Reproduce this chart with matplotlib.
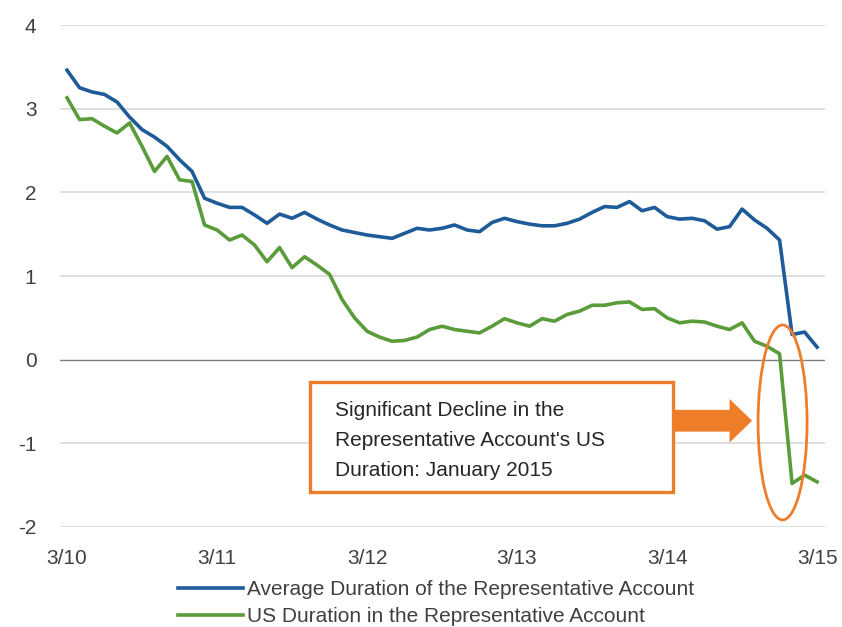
#!/usr/bin/python

import matplotlib
matplotlib.use("Agg")
import matplotlib.pyplot as plt
import matplotlib.patches as mpatches

# monthly readings, 3/10 through 3/15
TickLabels = ["3/10", "3/11", "3/12", "3/13", "3/14", "3/15"]

AvgDuration = [3.46, 3.25, 3.20, 3.17, 3.08, 2.90, 2.75, 2.66, 2.55, 2.39,
               2.25, 1.93, 1.87, 1.82, 1.82, 1.73, 1.63, 1.74, 1.69, 1.76,
               1.68, 1.61, 1.55, 1.52, 1.49, 1.47, 1.45, 1.51, 1.57, 1.55,
               1.57, 1.61, 1.55, 1.53, 1.64, 1.69, 1.65, 1.62, 1.60, 1.60,
               1.63, 1.68, 1.76, 1.83, 1.82, 1.89, 1.78, 1.82, 1.71, 1.68,
               1.69, 1.66, 1.56, 1.59, 1.80, 1.67, 1.57, 1.43, 0.30, 0.33,
               0.15]

USDuration = [3.13, 2.87, 2.88, 2.79, 2.71, 2.83, 2.55, 2.25, 2.43, 2.15,
              2.13, 1.61, 1.55, 1.43, 1.49, 1.37, 1.17, 1.34, 1.10, 1.23,
              1.13, 1.02, 0.72, 0.50, 0.34, 0.27, 0.22, 0.23, 0.27, 0.36,
              0.40, 0.36, 0.34, 0.32, 0.40, 0.49, 0.44, 0.40, 0.49, 0.46,
              0.54, 0.58, 0.65, 0.65, 0.68, 0.69, 0.60, 0.61, 0.50, 0.44,
              0.46, 0.45, 0.40, 0.36, 0.44, 0.22, 0.16, 0.07, -1.48, -1.38,
              -1.46]

SeriesNames = ["Average Duration of the Representative Account",
               "US Duration in the Representative Account"]

NoteText = "Significant Decline in the\nRepresentative Account's US\nDuration: January 2015"

BLUE = "#1f5b98"
GREEN = "#5b9c3a"
ORANGE = "#ee7d2a"


def drawChart():

    plt.rcParams["font.family"] = ["Liberation Sans", "DejaVu Sans"]
    plt.rcParams["axes.unicode_minus"] = False

    fig = plt.figure(figsize=(8.42, 6.27), dpi=100)
    ax = fig.add_axes([0.0713, 0.1595, 0.9086, 0.8006])

    months = list(range(len(AvgDuration)))

    for yv in range(-2, 5):
        if yv == 0:
            continue
        ax.axhline(yv, color="#d9d9d9", lw=1.2, zorder=0)
    ax.axhline(0, color="#7f7f7f", lw=1.0, zorder=1)

    ax.plot(months, AvgDuration, color=BLUE, lw=2.6, label=SeriesNames[0], zorder=3)
    ax.plot(months, USDuration, color=GREEN, lw=2.6, label=SeriesNames[1], zorder=3)

    ax.set_xlim(-0.56, 60.64)
    ax.set_ylim(-2, 4)
    ax.set_xticks([i * 12 for i in range(len(TickLabels))])
    ax.set_xticklabels(TickLabels)
    ax.set_yticks(range(-2, 5))
    ax.set_yticklabels([str(v) for v in range(-2, 5)])
    ax.tick_params(axis="both", length=0, labelsize=15, colors="#404040")
    ax.tick_params(axis="y", pad=17)
    ax.tick_params(axis="x", pad=16)
    for s in ax.spines.values():
        s.set_visible(False)

    # callout box, arrow and ellipse
    box = mpatches.Rectangle((19.4, -1.58), 29.1, 1.31, facecolor="white",
                             edgecolor=ORANGE, lw=2.4, zorder=4)
    ax.add_patch(box)
    ax.text(21.45, -0.50, NoteText, fontsize=15, color="#262626", va="top",
            ha="left", linespacing=1.72, zorder=5)

    arrow = mpatches.FancyArrow(48.4, -0.73, 6.4, 0, width=0.26, head_width=0.52,
                                head_length=1.8, length_includes_head=True,
                                color=ORANGE, lw=0, zorder=4)
    ax.add_patch(arrow)

    ell = mpatches.Ellipse((57.24, -0.75), 3.92, 2.33, fill=False,
                           edgecolor=ORANGE, lw=2.0, zorder=5)
    ax.add_patch(ell)

    fig.legend(loc="upper left", bbox_to_anchor=(0.2114, 0.075), frameon=False,
               fontsize=15, handlelength=3.1, handletextpad=0.2, labelspacing=0.4,
               borderpad=0, borderaxespad=0, labelcolor="#404040")

    fig.savefig("out.png", dpi=100)


if __name__ == "__main__":
    drawChart()
